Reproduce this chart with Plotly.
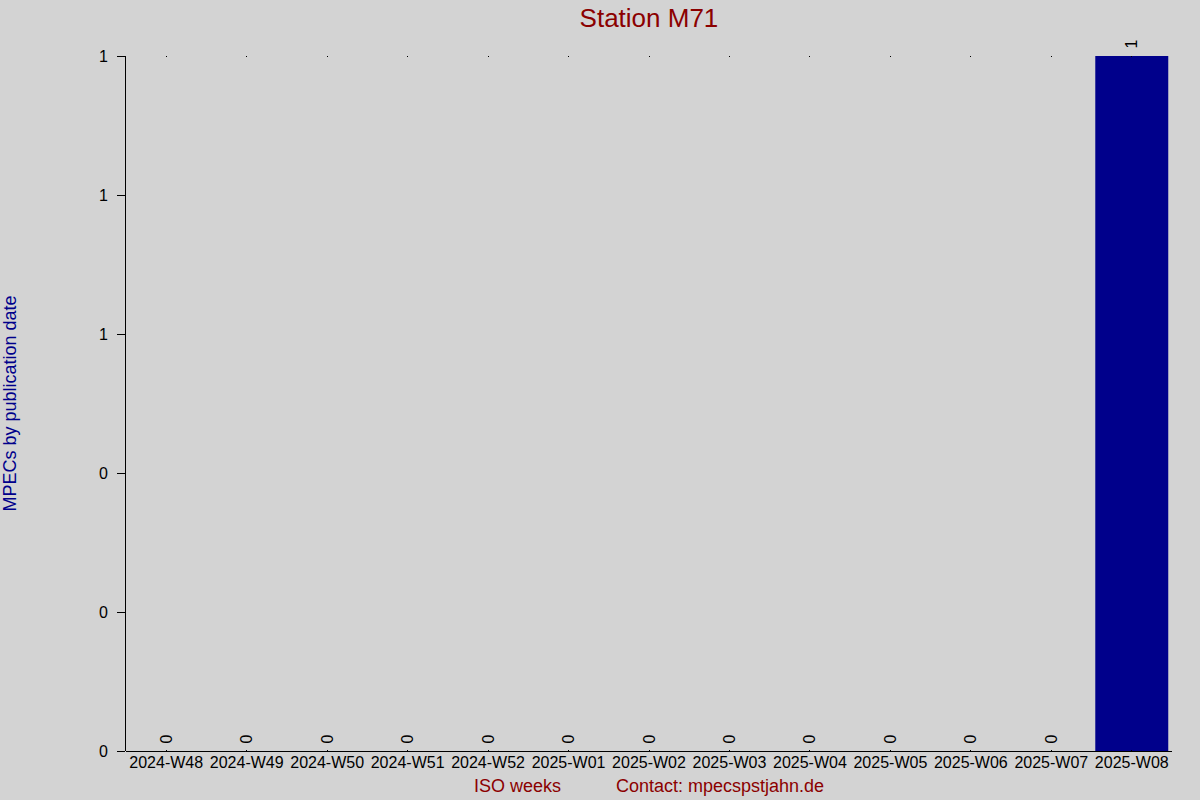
import plotly.graph_objects as go

weeks = ["2024-W48", "2024-W49", "2024-W50", "2024-W51", "2024-W52",
         "2025-W01", "2025-W02", "2025-W03", "2025-W04", "2025-W05",
         "2025-W06", "2025-W07", "2025-W08"]
mpecs = [0, 0, 0, 0, 0, 0, 0, 0, 0, 0, 0, 0, 1]

station = "M71"
sp = "\u00a0" * 11

fig = go.Figure()
fig.add_trace(go.Bar(
    x=weeks, y=mpecs,
    marker=dict(color="#00008b", line=dict(width=0)),
    texttemplate="\u00a0%{y}", textposition="outside", textangle=-90,
    textfont=dict(size=16, color="black"),
    cliponaxis=False,
))

fig.update_layout(
    width=1200, height=800,
    paper_bgcolor="#d3d3d3", plot_bgcolor="#d3d3d3",
    font=dict(family="Liberation Sans, Arial, sans-serif", size=16, color="black"),
    margin=dict(l=126, r=28, t=56, b=49),
    bargap=0.093,
    showlegend=False,
    title=dict(text="Station " + station, x=0.5408, xanchor="center", y=0.978, yanchor="middle",
               font=dict(size=26, color="#8b0000")),
)

fig.update_xaxes(
    type="category", automargin=False,
    title=dict(text="ISO weeks" + sp + "Contact: mpecspstjahn.de",
               font=dict(size=18, color="#8b0000"), standoff=9),
    showline=False, showgrid=False,
    ticks="inside", ticklen=1, tickcolor="black", mirror="ticks",
    tickfont=dict(size=16),
)
fig.update_yaxes(
    range=[0, 1], tickvals=[0, 0.2, 0.4, 0.6, 0.8, 1.0], tickformat=".0f",
    automargin=False,
    showline=True, linecolor="black", linewidth=1,
    ticks="outside", ticklen=8, tickcolor="black", ticklabelstandoff=6,
    showgrid=False, zeroline=True, zerolinecolor="black", zerolinewidth=1,
    title=dict(text="MPECs by publication date", font=dict(size=18, color="#00008b"), standoff=83),
    tickfont=dict(size=16),
)

# drop the browser's default page margin so the chart fills the window
fig.write_html("out.html", config={"displayModeBar": False},
               post_script="document.body.style.margin='0';")
